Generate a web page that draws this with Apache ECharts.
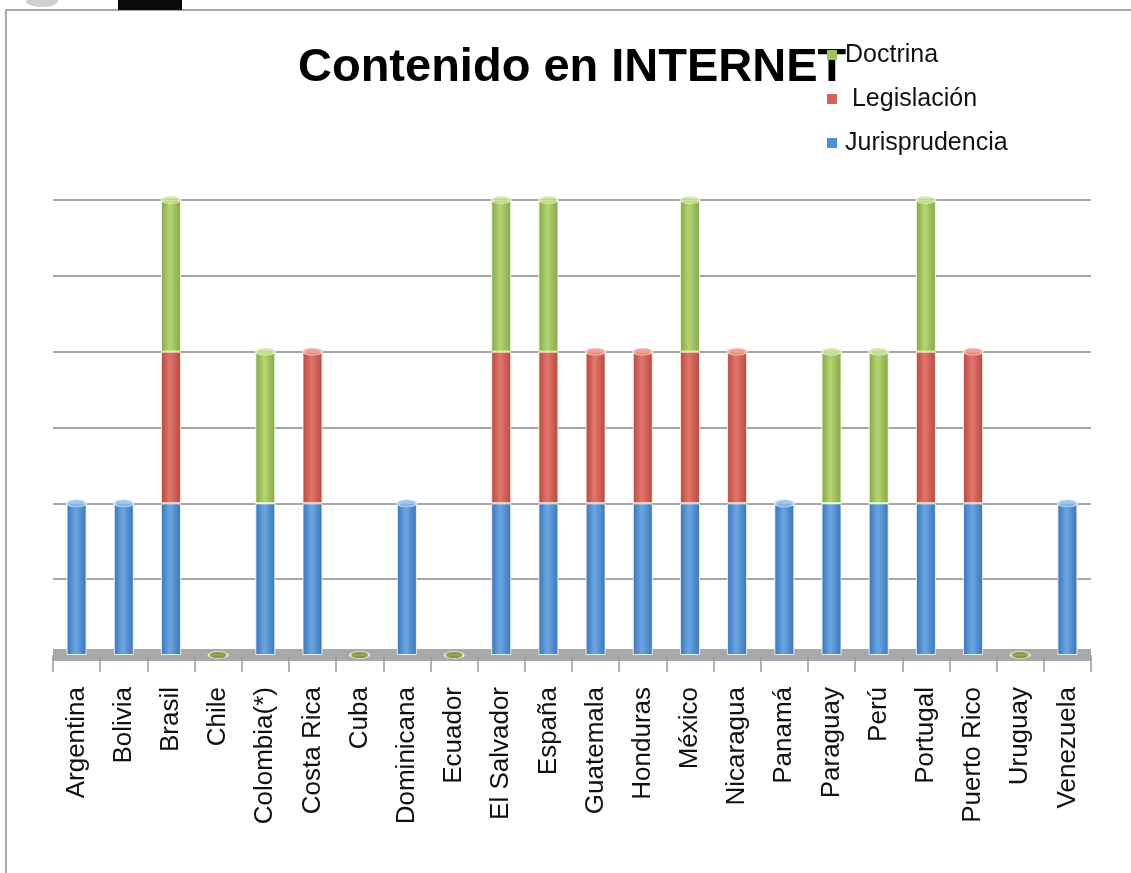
<!DOCTYPE html>
<html>
<head>
<meta charset="utf-8">
<script src="https://cdn.jsdelivr.net/npm/echarts@6/dist/echarts.min.js"></script>
<style>
html,body{margin:0;padding:0;background:#fff;}
#c{width:1131px;height:873px;}
</style>
</head>
<body>
<div id="c"></div>
<script>
var categories = ['Argentina','Bolivia','Brasil','Chile','Colombia(*)','Costa Rica','Cuba','Dominicana','Ecuador','El Salvador','España','Guatemala','Honduras','México','Nicaragua','Panamá','Paraguay','Perú','Portugal','Puerto Rico','Uruguay','Venezuela'];
var jurisprudencia = [1,1,1,0,1,1,0,1,0,1,1,1,1,1,1,1,1,1,1,1,0,1];
var legislacion    = [0,0,1,0,0,1,0,0,0,1,1,1,1,1,1,0,0,0,1,1,0,0];
var doctrina       = [0,0,1,0,1,0,0,0,0,1,1,0,0,1,0,0,1,1,1,0,0,0];
var yTicks = [0,0.5,1,1.5,2,2.5,3];

var FONT = '"Liberation Sans", Arial, sans-serif';

function cyl(edge, mid){
  return {type:'linear',x:0,y:0,x2:1,y2:0,colorStops:[
    {offset:0,color:edge},{offset:0.45,color:mid},{offset:1,color:edge}]};
}
var blueG = cyl('#3c74b6','#6aa6e4');
var redG = cyl('#b54840','#e3766b');
var greenG = cyl('#84a649','#b4d672');

var caps = categories.map(function(c,i){
  var t = jurisprudencia[i]+legislacion[i]+doctrina[i];
  var col, border;
  if (t === 0) { col = '#7d8f3a'; border = '#f1f3c8'; }
  else if (doctrina[i]) { col = '#c6e08e'; border = '#e9f3d2'; }
  else if (legislacion[i]) { col = '#eb8f86'; border = '#f6d2cc'; }
  else { col = '#85b8ec'; border = '#d2e4f7'; }
  return {value: t, itemStyle:{color: col, borderColor: border, borderWidth: 1.5}};
});

var chart = echarts.init(document.getElementById('c'), null, {renderer:'canvas'});
chart.setOption({
  backgroundColor:'#ffffff',
  animation:false,
  title:{
    text:'Contenido en INTERNET',
    left:293, top:40, z:2,
    textStyle:{fontFamily:FONT,fontWeight:'bold',fontSize:47,color:'#000'}
  },
  legend:{
    orient:'vertical',
    left:822, top:37, z:10,
    itemWidth:10, itemHeight:10, itemGap:18,
    icon:'rect',
    data:[
      {name:'Doctrina', itemStyle:{color:'#9cc55c',borderWidth:0}},
      {name:'Legislación', itemStyle:{color:'#d8605a',borderWidth:0}},
      {name:'Jurisprudencia', itemStyle:{color:'#4f90d2',borderWidth:0}}
    ],
    formatter:function(n){ return n==='Legislación' ? ' '+n : n; },
    textStyle:{fontFamily:FONT,fontSize:25,lineHeight:26,color:'#111',padding:[0,0,0,3]}
  },
  graphic:[
    {type:'rect',shape:{x:6,y:10,width:1140,height:880},style:{fill:'none',stroke:'#a8a8a8',lineWidth:2},z:-1},
    {type:'rect',shape:{x:118,y:0,width:64,height:10},style:{fill:'#0a0a0a'}},
    {type:'ellipse',shape:{cx:42,cy:1,rx:16,ry:6},style:{fill:'#d0d0d0'}}
  ],
  grid:{left:53,right:40,top:200,bottom:218,containLabel:false},
  xAxis:{
    type:'category',
    data:categories,
    boundaryGap:true,
    axisLine:{show:true,lineStyle:{color:'#a9a9a9',width:12,cap:'butt'}},
    axisTick:{show:true,length:17,lineStyle:{color:'#9a9a9a',width:1.5}},
    axisLabel:{rotate:90,margin:32,interval:0,fontFamily:FONT,fontSize:26,color:'#111'},
    z:1
  },
  yAxis:{
    type:'value',
    min:0,max:3,interval:0.5,
    axisLabel:{show:false},
    axisLine:{show:false},
    axisTick:{show:false},
    splitLine:{show:true,lineStyle:{color:'#a6a6a6',width:2}}
  },
  series:[
    {name:'Jurisprudencia',type:'bar',stack:'t',barWidth:20,data:jurisprudencia,
     itemStyle:{color:blueG,borderColor:'rgba(235,244,255,0.9)',borderWidth:1}},
    {name:'Legislación',type:'bar',stack:'t',barWidth:20,data:legislacion,
     itemStyle:{color:redG,borderColor:'rgba(255,240,220,0.9)',borderWidth:1}},
    {name:'Doctrina',type:'bar',stack:'t',barWidth:20,data:doctrina,
     itemStyle:{color:greenG,borderColor:'rgba(250,255,225,0.9)',borderWidth:1}},
    {name:'caps',type:'scatter',symbol:'circle',symbolSize:[19,7],data:caps,z:5,silent:true}
  ]
});
</script>
</body>
</html>
